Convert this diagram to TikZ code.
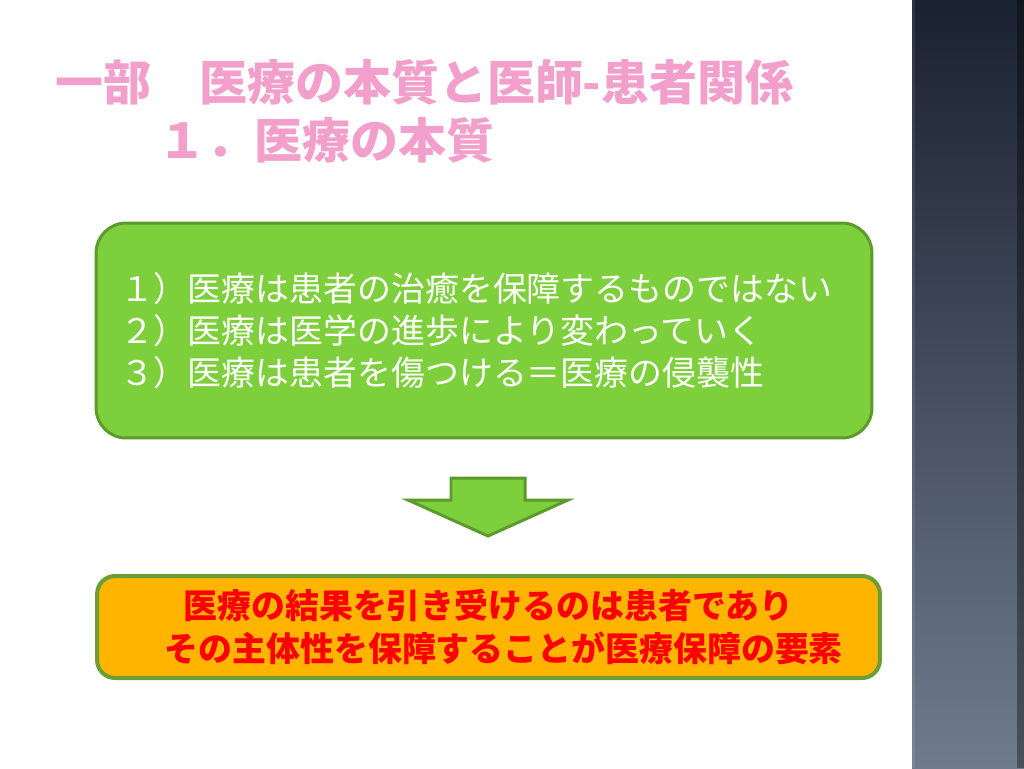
\documentclass[tikz,border=0pt]{standalone}
\usepackage{fontspec}
\newfontfamily\jpfont{Noto Sans CJK JP}
\usetikzlibrary{positioning}
\definecolor{titlepink}{HTML}{F2A0CB}
\definecolor{leafgreen}{HTML}{7DD03B}
\definecolor{leafline}{HTML}{5C9A2C}
\definecolor{amber}{HTML}{FFB400}
\definecolor{amberline}{HTML}{6C9E36}
\definecolor{bandtop}{HTML}{1A2130}
\definecolor{bandbottom}{HTML}{6F7B8C}

\begin{document}
\begin{tikzpicture}[x=0.02cm,y=-0.02cm,
    titletext/.style={anchor=west,inner sep=0pt,text=titlepink,font=\jpfont\bfseries\fontsize{27.3pt}{32pt}\selectfont},
    greenbox/.style={draw=leafline,line width=1.7pt,fill=leafgreen,rounded corners=0.6cm,text=white,font=\jpfont\fontsize{19.3pt}{23.9pt}\selectfont},
    amberbox/.style={draw=amberline,line width=2.3pt,fill=amber,rounded corners=0.36cm,text=red,font=\jpfont\bfseries\fontsize{19.3pt}{24.5pt}\selectfont},
    downarrow/.style={draw=leafline,line width=1.7pt,fill=leafgreen,line join=miter}]
      \useasboundingbox (0,0) rectangle (1024,768);
      % side band
      \shade[top color=bandtop,bottom color=bandbottom] (912,0) rectangle (1024,768);
      \fill[black,opacity=0.35] (1017,0) rectangle (1024,768);
      \fill[white,opacity=0.08] (912,0) rectangle (915,768);
      % title
      \node[titletext] (title) at (55,82) {一部　医療の本質と医師-患者関係};
      \node[titletext] (subtitle) at (158,140) {１．医療の本質};
      % boxes
      \node[greenbox,minimum width=15.52cm,minimum height=4.3cm,text width=14.56cm,inner xsep=0.48cm,align=left] (premise) at (484,330.5)
        {１）医療は患者の治癒を保障するものではない\\２）医療は医学の進歩により変わっていく\\３）医療は患者を傷つける＝医療の侵襲性};
      \draw[downarrow] (451,478) -- (525,478) -- (525,500) -- (568,500) -- (488,536) -- (408,500) -- (451,500) -- cycle;
      \node[amberbox,minimum width=15.66cm,minimum height=2.04cm,align=center] (result) at (488.5,627)
        {医療の結果を引き受けるのは患者であり\\\hspace*{0.9em}その主体性を保障することが医療保障の要素};
\end{tikzpicture}
\end{document}
